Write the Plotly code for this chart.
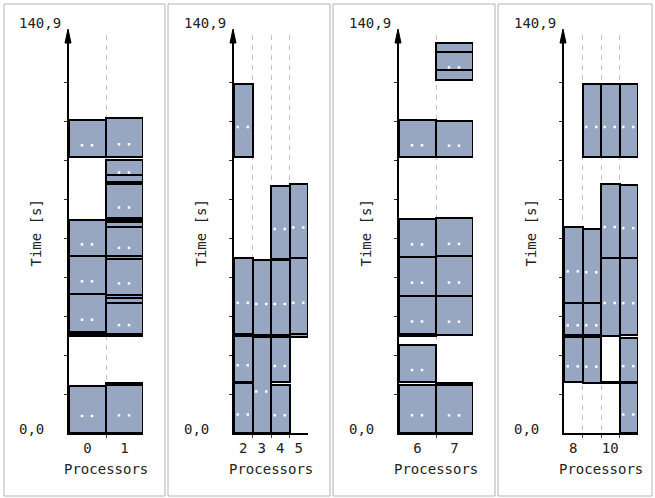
import plotly.graph_objects as go

# ---------------- data ----------------
panel_procs = [[0, 1], [2, 3, 4, 5], [6, 7], [8, 9, 10, 11]]
tick_vals = [[0, 1], [2, 3, 4, 5], [6, 7], [8, 10]]
tick_text = [["0", "1"], ["2", "3", "4", "5"], ["6", "7"], ["8", "10"]]

T_MAX = 140.9
top_label = "140,9"
bottom_label = "0,0"
x_title = "Processors"
y_title = "Time [s]"

# tasks: processor, start [s], end [s]
task_proc = (
    [0] * 6 + [1] * 17 +
    [2] * 4 + [3] * 2 + [4] * 4 + [5] * 3 +
    [6] * 7 + [7] * 9 +
    [8] * 3 + [9] * 4 + [10] * 4 + [11] * 5
)
task_start = [
    # proc 0
    99.6, 64.05, 50.22, 36.38, 34.9, 0.0,
    # proc 1
    99.6, 93.2, 90.8, 89.85, 77.8, 77.06, 76.34, 74.6, 63.84, 63.04, 49.75, 48.95, 47.04, 35.66, 34.93, 17.45, 0.0,
    # proc 2
    99.6, 35.66, 18.6, 0.0,
    # proc 3
    35.4, 0.0,
    # proc 4
    62.9, 35.4, 18.4, 0.0,
    # proc 5
    63.1, 35.6, 34.6,
    # proc 6
    99.6, 63.69, 49.6, 35.66, 34.93, 18.4, 0.0,
    # proc 7
    137.75, 131.1, 127.6, 99.6, 63.8, 49.6, 35.5, 17.45, 0.0,
    # proc 8
    47.07, 35.4, 18.3,
    # proc 9
    99.6, 47.07, 35.4, 18.06,
    # proc 10
    99.6, 63.4, 35.2, 18.2,
    # proc 11
    99.6, 63.1, 35.4, 18.5, 0.0,
]
task_end = [
    # proc 0
    113.0, 76.95, 64.05, 50.22, 35.6, 16.98,
    # proc 1
    113.7, 98.5, 93.2, 90.8, 89.85, 77.8, 77.06, 76.34, 74.6, 63.84, 63.04, 49.75, 48.95, 47.04, 35.66, 18.17, 17.45,
    # proc 2
    126.2, 63.1, 35.04, 18.06,
    # proc 3
    62.5, 34.7,
    # proc 4
    89.2, 62.5, 34.7, 17.5,
    # proc 5
    90.1, 63.1, 35.6,
    # proc 6
    113.0, 77.28, 63.69, 49.6, 35.66, 31.8, 17.5,
    # proc 7
    140.9, 137.75, 131.1, 112.7, 77.57, 63.8, 49.6, 18.17, 17.45,
    # proc 8
    74.42, 47.07, 34.57,
    # proc 9
    126.2, 73.81, 47.07, 34.57,
    # proc 10
    126.2, 90.1, 63.4, 18.4,
    # proc 11
    126.2, 89.6, 63.1, 34.5, 18.06,
]

# ---------------- geometry / style ----------------
W, H = 655, 498
PANEL_DX = 165
AX_X0, AX_W = 69, 74
Y_BOT, Y_PLOT_TOP, Y_MAX_PX = 433, 35, 43
px_per_s = (Y_BOT - Y_MAX_PX) / T_MAX
y_range_top = (Y_BOT - Y_PLOT_TOP) / px_per_s

FILL = "#97A6C1"
FONT = dict(family="DejaVu Sans Mono", size=14, color="#222222")
frame_x0 = [4, 168, 333, 498]
frame_x1 = [165, 330, 495, 652]


def fx(px):
    return px / W


def fy(py):
    return 1 - py / H


fig = go.Figure()
shapes = []
annotations = []

for i, procs in enumerate(panel_procs):
    n = i + 1
    xs = "x" if n == 1 else f"x{n}"
    ys = "y" if n == 1 else f"y{n}"
    ox = PANEL_DX * i

    idx = [k for k, p in enumerate(task_proc) if p in procs]
    bx = [task_proc[k] for k in idx]
    bb = [task_start[k] for k in idx]
    bh = [task_end[k] - task_start[k] for k in idx]

    fig.add_trace(go.Bar(
        x=bx, y=bh, base=bb, width=[1] * len(bx),
        marker=dict(color=FILL, line=dict(color="black", width=2)),
        xaxis=xs, yaxis=ys, hoverinfo="skip", showlegend=False,
    ))

    # white ".." labels
    ppu = AX_W / len(procs)
    dx, dy = [], []
    for k in idx:
        h_px = (task_end[k] - task_start[k]) * px_per_s
        if h_px >= 12:
            c = (task_start[k] + task_end[k]) / 2
            off = min(6.5, h_px / 2 - 2.5)
            yy = c - off / px_per_s
            p = task_proc[k]
            dx += [p - 5.5 / ppu, p + 4.5 / ppu]
            dy += [yy, yy]
    fig.add_trace(go.Scatter(
        x=dx, y=dy, mode="markers",
        marker=dict(symbol="square", size=2.5, color="white", line=dict(width=0)),
        xaxis=xs, yaxis=ys, hoverinfo="skip", showlegend=False,
    ))

    xkey = "xaxis" if n == 1 else f"xaxis{n}"
    ykey = "yaxis" if n == 1 else f"yaxis{n}"
    fig.layout[xkey] = dict(
        domain=[fx(AX_X0 + ox), fx(AX_X0 + AX_W + ox)],
        range=[procs[0] - 0.5, procs[-1] + 0.5],
        anchor=ys, tickmode="array", tickvals=tick_vals[i], ticktext=tick_text[i],
        ticks="", ticklabelstandoff=1,
        showline=True, linecolor="black", linewidth=1.5,
        showgrid=False, zeroline=False, tickfont=dict(FONT, size=14),
        minor=dict(tickmode="array", tickvals=[p + 0.5 for p in procs[:-1]],
                   ticks="outside", ticklen=3, tickcolor="#444444", tickwidth=1,
                   showgrid=True, gridcolor="#C4C4C4", griddash="5px,5px", gridwidth=1),
        fixedrange=True,
    )
    fig.layout[ykey] = dict(
        domain=[fy(Y_BOT), fy(Y_PLOT_TOP)],
        range=[0, y_range_top], anchor=xs,
        tickmode="array", tickvals=[T_MAX / 10 * k for k in range(1, 10)],
        ticks="outside", ticklen=3, tickcolor="#333333", tickwidth=1,
        showticklabels=False, showline=True, linecolor="black", linewidth=2,
        showgrid=False, zeroline=False, fixedrange=True,
    )

    # arrow head on time axis
    axx = AX_X0 + ox - 1
    shapes.append(dict(
        type="path", xref="paper", yref="paper",
        path=f"M {fx(axx - 3)} {fy(Y_MAX_PX)} L {fx(axx)} {fy(29)} L {fx(axx + 3)} {fy(Y_MAX_PX)} Z",
        fillcolor="black", line=dict(color="black", width=1),
    ))
    # panel frame
    shapes.append(dict(
        type="rect", xref="paper", yref="paper",
        x0=fx(frame_x0[i]), x1=fx(frame_x1[i]), y0=fy(496), y1=fy(4),
        line=dict(color="#B4B4B4", width=1), fillcolor="rgba(0,0,0,0)", layer="below",
    ))

    annotations += [
        dict(text=top_label, x=fx(17 + ox), y=fy(23), xref="paper", yref="paper",
             xanchor="left", yanchor="middle", showarrow=False, font=FONT),
        dict(text=bottom_label, x=fx(17 + ox), y=fy(429), xref="paper", yref="paper",
             xanchor="left", yanchor="middle", showarrow=False, font=FONT),
        dict(text=y_title, x=fx(35.5 + ox), y=fy(233), xref="paper", yref="paper",
             xanchor="center", yanchor="middle", textangle=-90, showarrow=False, font=FONT),
        dict(text=x_title, x=fx(105.5 + ox), y=fy(468.5), xref="paper", yref="paper",
             xanchor="center", yanchor="middle", showarrow=False, font=FONT),
    ]

fig.update_layout(
    width=W, height=H, margin=dict(l=0, r=0, t=0, b=0),
    paper_bgcolor="white", plot_bgcolor="white",
    barmode="overlay", bargap=0, bargroupgap=0, showlegend=False,
    shapes=shapes, annotations=annotations,
)

fig.write_html(
    "out.html",
    config={"displayModeBar": False, "staticPlot": False},
    post_script="document.body.style.margin='0';document.body.style.padding='0';"
                "document.body.style.overflow='hidden';",
)
